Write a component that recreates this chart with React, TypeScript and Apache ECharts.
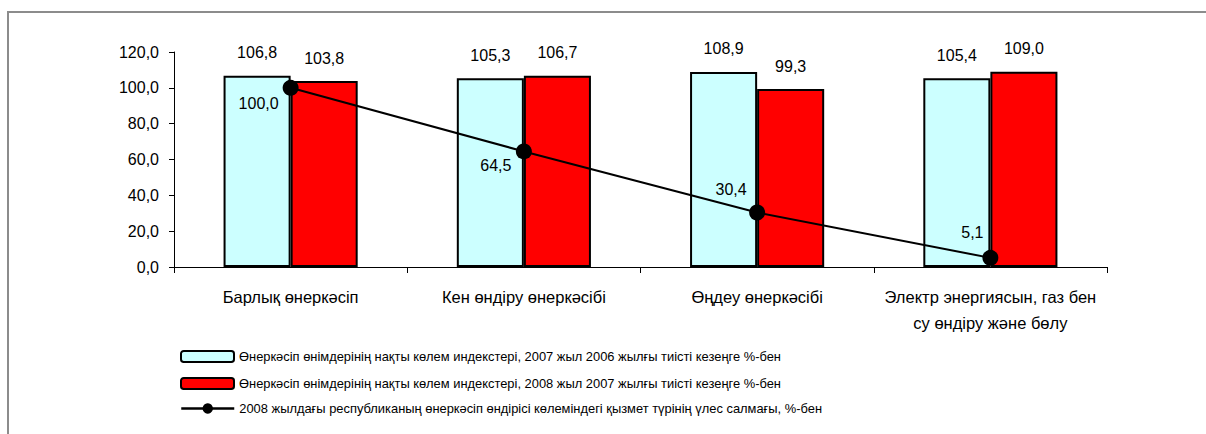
import React, { useEffect, useRef } from "react";
import * as echarts from "echarts";

const categories = [
  "Барлық өнеркәсіп",
  "Кен өндіру өнеркәсібі",
  "Өңдеу өнеркәсібі",
  "Электр энергиясын, газ бен\nсу өндіру және бөлу",
];
const seriesNames = [
  "Өнеркәсіп өнімдерінің нақты көлем индекстері, 2007 жыл 2006 жылғы тиісті кезеңге %-бен",
  "Өнеркәсіп өнімдерінің нақты көлем индекстері, 2008 жыл 2007 жылғы тиісті кезеңге %-бен",
  "2008 жылдағы республиканың өнеркәсіп өндірісі көлеміндегі қызмет түрінің үлес салмағы, %-бен",
];
const index2007 = [106.8, 105.3, 108.9, 105.4];
const index2008 = [103.8, 106.7, 99.3, 109.0];
const share2008 = [100.0, 64.5, 30.4, 5.1];
const shareLabelOffsets = [
  [-32, 16],
  [-28, 14],
  [-26, -23],
  [-18, -25],
];

const FONT = "Liberation Sans, Arial, sans-serif";
const FS = 16;
const fmt = (v: number) => v.toFixed(1).replace(".", ",");

export default function App() {
  const ref = useRef<HTMLDivElement>(null);
  useEffect(() => {
    if (!ref.current) return;
    const chart = echarts.init(ref.current, undefined, { renderer: "svg" });
    const legendCommon = {
      orient: "vertical",
      left: 175,
      itemWidth: 53,
      itemHeight: 11,
      itemGap: 5,
      textStyle: { fontFamily: FONT, fontSize: 12.9, color: "#000" },
      selectedMode: false,
    };
    chart.setOption({
      animation: false,
      backgroundColor: "#fff",
      textStyle: { fontFamily: FONT },
      graphic: [
        {
          type: "rect",
          shape: { x: 8, y: 12, width: 1220, height: 440 },
          style: { fill: "none", stroke: "#8c8c8c", lineWidth: 2 },
          silent: true,
        },
      ],
      grid: { left: 174, right: 99, top: 52, bottom: 167 },
      legend: [
        { ...legendCommon, top: 345, data: [seriesNames[0]] },
        { ...legendCommon, top: 372, data: [seriesNames[1]] },
        {
          ...legendCommon,
          top: 397,
          itemHeight: 13,
          lineStyle: { width: 2.5, color: "#000" },
          data: [seriesNames[2]],
        },
      ],
      xAxis: {
        type: "category",
        data: categories,
        boundaryGap: true,
        axisLine: { lineStyle: { color: "#000", width: 1 } },
        axisTick: { show: true, length: 6, alignWithLabel: false, lineStyle: { color: "#000" } },
        axisLabel: {
          color: "#000",
          fontFamily: FONT,
          fontSize: 16.5,
          margin: 17,
          lineHeight: 26,
          interval: 0,
        },
      },
      yAxis: {
        type: "value",
        min: 0,
        max: 120,
        interval: 20,
        splitLine: { show: false },
        axisLine: { show: true, lineStyle: { color: "#000", width: 1 } },
        axisTick: { show: true, length: 5, lineStyle: { color: "#000" } },
        axisLabel: {
          color: "#000",
          fontFamily: FONT,
          fontSize: FS,
          margin: 15,
          formatter: (v: number) => fmt(v),
        },
      },
      series: [
        {
          name: seriesNames[0],
          type: "bar",
          data: index2007,
          barGap: "0%",
          barCategoryGap: "42.5%",
          itemStyle: { color: "#CCFFFF", borderColor: "#000", borderWidth: 2 },
          label: {
            show: true,
            position: "top",
            distance: 15,
            color: "#000",
            fontFamily: FONT,
            fontSize: FS,
            formatter: (p: any) => fmt(p.value),
          },
        },
        {
          name: seriesNames[1],
          type: "bar",
          data: index2008,
          itemStyle: { color: "#FF0000", borderColor: "#000", borderWidth: 2 },
          label: {
            show: true,
            position: "top",
            distance: 15,
            color: "#000",
            fontFamily: FONT,
            fontSize: FS,
            formatter: (p: any) => fmt(p.value),
          },
        },
        {
          name: seriesNames[2],
          type: "line",
          data: share2008.map((v, i) => ({
            value: v,
            label: { offset: shareLabelOffsets[i] },
          })),
          symbol: "circle",
          symbolSize: 16,
          z: 5,
          lineStyle: { color: "#000", width: 2 },
          itemStyle: { color: "#000" },
          label: {
            show: true,
            position: "inside",
            color: "#000",
            fontFamily: FONT,
            fontSize: FS,
            formatter: (p: any) => fmt(p.value),
          },
        },
      ],
    });
    return () => chart.dispose();
  }, []);
  return (
    <div
      ref={ref}
      style={{ position: "fixed", left: 0, top: 0, width: 1206, height: 434 }}
    />
  );
}
